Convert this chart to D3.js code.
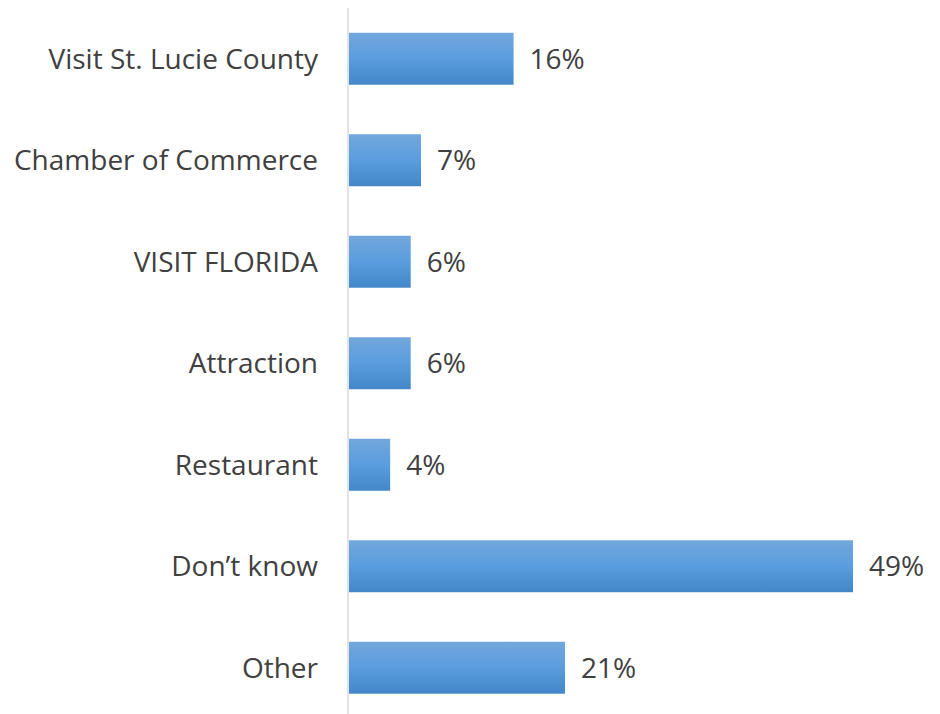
<!DOCTYPE html>
<html>
<head>
<meta charset="utf-8">
<script src="https://cdn.jsdelivr.net/npm/d3@7"></script>
<style>
  html, body { margin: 0; padding: 0; background: #fff; }
  svg text { font-family: "Open Sans", Lato, sans-serif; fill: #404040; }
</style>
</head>
<body>
<div id="chart"></div>
<script>
(function() {
  const width = 940;
  const height = 714;

  // ===== Dados =====
  const categories = ["Visit St. Lucie County", "Chamber of Commerce", "VISIT FLORIDA",
    "Attraction", "Restaurant", "Don\u2019t know", "Other"];
  const values = [16, 7, 6, 6, 4, 49, 21];
  const valueLabels = ["16%", "7%", "6%", "6%", "4%", "49%", "21%"];

  const axisX = 348;
  const svg = d3.select("#chart").append("svg")
    .attr("width", width).attr("height", height);

  const defs = svg.append("defs");
  const grad = defs.append("linearGradient")
    .attr("id", "barGrad").attr("x1", 0).attr("y1", 0).attr("x2", 0).attr("y2", 1);
  [["0%", "#72a7dc"], ["50%", "#5a9ddf"], ["100%", "#4487c8"]].forEach(s =>
    grad.append("stop").attr("offset", s[0]).attr("stop-color", s[1]));

  const x = d3.scaleLinear().domain([0, 49]).range([axisX + 1, 853]);
  const y = d3.scaleBand().domain(categories).range([8, 718.5]).paddingInner(0.488).paddingOuter(0.244);

  const data = categories.map((c, i) => ({ cat: c, v: values[i], label: valueLabels[i] }));

  svg.append("g").selectAll("rect")
    .data(data)
    .join("rect")
    .attr("x", x(0))
    .attr("y", d => y(d.cat))
    .attr("width", d => x(d.v) - x(0))
    .attr("height", y.bandwidth())
    .attr("fill", "url(#barGrad)");

  // eixo vertical
  svg.append("line")
    .attr("x1", axisX).attr("x2", axisX)
    .attr("y1", 8).attr("y2", height)
    .attr("stroke", "#d9d9d9").attr("stroke-width", 1.5);

  svg.append("g").selectAll("text.cat")
    .data(data)
    .join("text")
    .attr("class", "cat")
    .attr("x", axisX - 30)
    .attr("y", d => y(d.cat) + y.bandwidth() / 2)
    .attr("dy", "0.35em")
    .attr("text-anchor", "end")
    .style("font-size", "28px")
    .text(d => d.cat);

  svg.append("g").selectAll("text.val")
    .data(data)
    .join("text")
    .attr("class", "val")
    .attr("x", d => x(d.v) + 16)
    .attr("y", d => y(d.cat) + y.bandwidth() / 2)
    .attr("dy", "0.35em")
    .style("font-size", "28px")
    .text(d => d.label);
})();
</script>
</body>
</html>
